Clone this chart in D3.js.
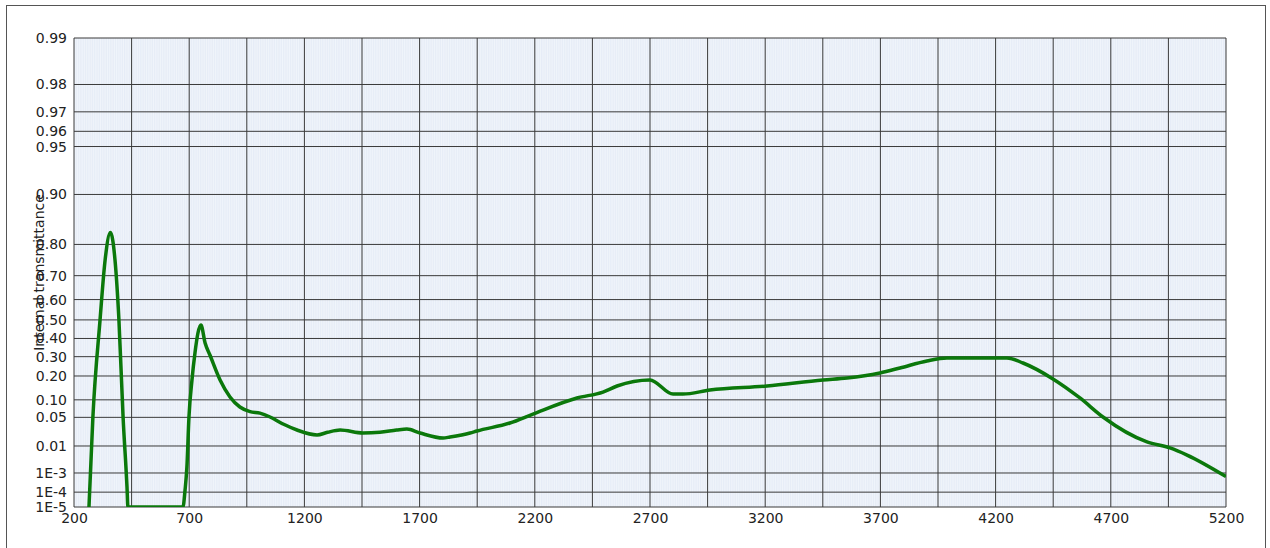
<!DOCTYPE html>
<html>
<head>
<meta charset="utf-8">
<script src="https://cdn.jsdelivr.net/npm/d3@7"></script>
<style>
  html, body { margin: 0; padding: 0; background: #fff; }
  svg { display: block; }
  text { font-family: "DejaVu Sans", Verdana, sans-serif; fill: #222; }
</style>
</head>
<body>
<div class="chart-wrapper"></div>
<script>
// wavelength in nm, internal transmittance
const wavelength = [265, 282, 313, 335, 358, 378, 395, 413, 430, 434, 669, 673, 682, 690, 699, 712, 725, 738, 751,
  769, 790, 834, 877, 920, 964, 1007, 1051, 1110, 1168, 1255, 1300, 1355, 1454, 1528, 1600, 1645, 1702, 1802, 1832,
  1919, 1949, 2092, 2192, 2383, 2496, 2557, 2700, 2800, 2843, 2960, 3208, 3451, 3555, 3698, 3785, 3902, 3989, 4249,
  4319, 4449, 4566, 4666, 4857, 4957, 5031, 5200];
const transmittance = [1e-5, 0.0508, 0.4995, 0.754, 0.83, 0.754, 0.4995, 0.0508, 2e-4, 1e-5, 1e-5, 1e-5, 1.34e-4,
  1.81e-3, 0.0508, 0.181, 0.320, 0.430, 0.473, 0.375, 0.309, 0.181, 0.110, 0.077, 0.064, 0.060, 0.0508, 0.036,
  0.0267, 0.0202, 0.0235, 0.0267, 0.0226, 0.0235, 0.0267, 0.0282, 0.0226, 0.0168, 0.0179, 0.0226, 0.0253, 0.0383,
  0.0579, 0.1065, 0.129, 0.154, 0.181, 0.121, 0.121, 0.137, 0.154, 0.181, 0.190, 0.215, 0.240, 0.277, 0.293, 0.293,
  0.266, 0.186, 0.1065, 0.0508, 0.0131, 0.0087, 0.0051, 0.00068];

const yTicks = [0.99, 0.98, 0.97, 0.96, 0.95, 0.90, 0.80, 0.70, 0.60, 0.50, 0.40, 0.30, 0.20, 0.10, 0.05, 0.01,
  0.001, 0.0001, 0.00001];
const yTickLabels = ['0.99', '0.98', '0.97', '0.96', '0.95', '0.90', '0.80', '0.70', '0.60', '0.50', '0.40',
  '0.30', '0.20', '0.10', '0.05', '0.01', '1E-3', '1E-4', '1E-5'];
const xTicks = [200, 700, 1200, 1700, 2200, 2700, 3200, 3700, 4200, 4700, 5200];
const xGrid = d3.range(200, 5201, 250);

const width = 1270;
const height = 548;
const margin = { top: 38, right: 44, bottom: 41, left: 74 };

// transmittance axis is linear in log10(-ln T)
const toAxis = (t) => Math.log10(-Math.log(t));

let svg = d3.select('.chart-wrapper').append('svg')
  .attr('width', width)
  .attr('height', height);

svg.append('rect')
  .attr('x', 6.5).attr('y', 5.5)
  .attr('width', 1259).attr('height', 560)
  .attr('fill', '#fff')
  .attr('stroke', '#555');

let x = d3.scaleLinear()
  .domain([200, 5200])
  .range([margin.left, width - margin.right]);

let y = d3.scaleLinear()
  .domain([toAxis(0.99), toAxis(0.00001)])
  .range([margin.top, height - margin.bottom]);

let plot = svg.append('g');

plot.append('rect')
  .attr('x', x(200)).attr('y', y.range()[0])
  .attr('width', x(5200) - x(200))
  .attr('height', y.range()[1] - y.range()[0])
  .attr('fill', '#e7edf7');

// faint vertical hatching of the plot area
plot.append('g')
  .selectAll('line')
  .data(d3.range(205, 5200, 10))
  .enter()
  .append('line')
  .attr('x1', (d) => x(d)).attr('x2', (d) => x(d))
  .attr('y1', y.range()[0]).attr('y2', y.range()[1])
  .attr('stroke', '#f3f6fb')
  .attr('stroke-width', 0.8);

plot.append('g')
  .selectAll('line')
  .data(xGrid)
  .enter()
  .append('line')
  .attr('x1', (d) => x(d)).attr('x2', (d) => x(d))
  .attr('y1', y.range()[0]).attr('y2', y.range()[1])
  .attr('stroke', '#3a3a3a')
  .attr('stroke-width', 1);

plot.append('g')
  .selectAll('line')
  .data(yTicks)
  .enter()
  .append('line')
  .attr('x1', x(200)).attr('x2', x(5200))
  .attr('y1', (d) => y(toAxis(d))).attr('y2', (d) => y(toAxis(d)))
  .attr('stroke', '#3a3a3a')
  .attr('stroke-width', 1);

let yAxis = d3.axisLeft(y)
  .tickValues(yTicks.map(toAxis))
  .tickFormat((d, i) => yTickLabels[i])
  .tickSize(0)
  .tickPadding(7);

svg.append('g')
  .attr('transform', `translate(${margin.left}, 0)`)
  .call(yAxis)
  .call((g) => g.select('.domain').remove())
  .selectAll('text')
  .style('font-size', '14px')
  .attr('fill', '#222');

let xAxis = d3.axisBottom(x)
  .tickValues(xTicks)
  .tickFormat(d3.format('d'))
  .tickSize(0)
  .tickPadding(6);

svg.append('g')
  .attr('transform', `translate(0, ${height - margin.bottom})`)
  .call(xAxis)
  .call((g) => g.select('.domain').remove())
  .selectAll('text')
  .style('font-size', '14px')
  .attr('fill', '#222');

svg.append('text')
  .attr('transform', `translate(44, ${(y.range()[0] + y.range()[1]) / 2}) rotate(-90)`)
  .attr('text-anchor', 'middle')
  .style('font-size', '14px')
  .text('Internal transmittance');

svg.append('clipPath')
  .attr('id', 'plot-clip')
  .append('rect')
  .attr('x', x(200)).attr('y', y.range()[0])
  .attr('width', x(5200) - x(200))
  .attr('height', y.range()[1] - y.range()[0]);

let points = wavelength.map((w, i) => [w, transmittance[i]]);

let line = d3.line()
  .x((d) => x(d[0]))
  .y((d) => y(toAxis(d[1])))
  .curve(d3.curveMonotoneX);

svg.append('path')
  .datum(points)
  .attr('clip-path', 'url(#plot-clip)')
  .attr('d', line)
  .attr('fill', 'none')
  .attr('stroke', '#0b780b')
  .attr('stroke-width', 3.5)
  .attr('stroke-linejoin', 'round');
</script>
</body>
</html>
